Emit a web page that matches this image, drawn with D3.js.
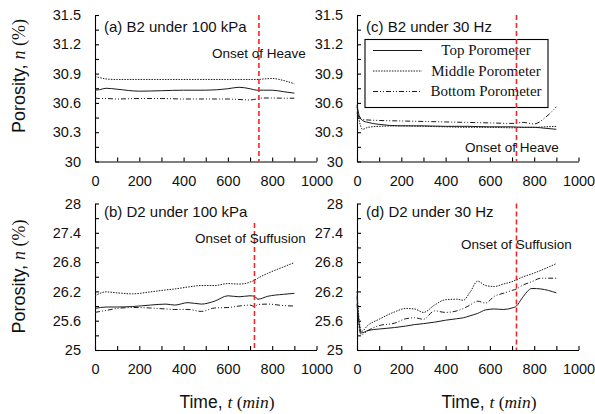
<!DOCTYPE html>
<html>
<head>
<meta charset="utf-8">
<script src="https://cdn.jsdelivr.net/npm/d3@7"></script>
<style>
  body { margin: 0; background: #fff; }
  svg { display: block; }
</style>
</head>
<body>
<svg id="chart" width="595" height="414"></svg>
<script>
// time axis ticks + labels
const xTicks = [0, 200, 400, 600, 800, 1000];
const yTicksB2 = [30, 30.3, 30.6, 30.9, 31.2, 31.5];
const yTicksD2 = [25, 25.6, 26.2, 26.8, 27.4, 28];

// (a) B2 under 100 kPa
const tA = [0, 20, 50, 100, 200, 300, 400, 500, 600, 650, 700, 730, 760, 800, 850, 900];
const aTop = [30.73, 30.735, 30.75, 30.74, 30.72, 30.725, 30.73, 30.73, 30.745, 30.76, 30.745, 30.73, 30.73, 30.73, 30.715, 30.70];
const aMid = [30.87, 30.86, 30.845, 30.84, 30.84, 30.84, 30.84, 30.84, 30.84, 30.84, 30.84, 30.84, 30.845, 30.85, 30.83, 30.795];
const aBot = [30.65, 30.645, 30.645, 30.64, 30.645, 30.645, 30.64, 30.64, 30.64, 30.635, 30.63, 30.64, 30.65, 30.65, 30.648, 30.648];

// (c) B2 under 30 Hz
const tC = [0, 10, 25, 50, 100, 200, 300, 400, 500, 600, 700, 750, 800, 850, 900];
const cTop = [30.58, 30.47, 30.42, 30.40, 30.38, 30.365, 30.365, 30.36, 30.36, 30.355, 30.355, 30.35, 30.35, 30.34, 30.33];
const cMid = [30.56, 30.42, 30.33, 30.35, 30.36, 30.365, 30.36, 30.355, 30.35, 30.35, 30.345, 30.35, 30.35, 30.355, 30.36];
const cBot = [30.50, 30.45, 30.43, 30.425, 30.42, 30.415, 30.41, 30.405, 30.40, 30.395, 30.39, 30.40, 30.385, 30.45, 30.56];

// (b) D2 under 100 kPa
const tB = [0, 50, 100, 170, 250, 320, 360, 420, 480, 540, 600, 650, 700, 720, 735, 780, 850, 900];
const bTop = [25.85, 25.88, 25.88, 25.89, 25.92, 25.94, 25.92, 25.97, 25.94, 26.00, 26.11, 26.09, 26.11, 26.10, 26.04, 26.10, 26.14, 26.16];
const bMid = [26.11, 26.19, 26.17, 26.15, 26.19, 26.23, 26.25, 26.29, 26.32, 26.32, 26.36, 26.35, 26.39, 26.43, 26.47, 26.57, 26.70, 26.79];
const bBot = [25.77, 25.81, 25.85, 25.87, 25.86, 25.84, 25.83, 25.83, 25.79, 25.86, 25.87, 25.90, 25.92, 25.89, 25.93, 25.94, 25.91, 25.90];

// (d) D2 under 30 Hz
const tD = [0, 8, 20, 50, 100, 170, 220, 260, 300, 350, 400, 450, 480, 510, 545, 580, 620, 660, 700, 720, 745, 790, 830, 900];
const dTop = [26.1, 25.6, 25.35, 25.40, 25.43, 25.46, 25.49, 25.52, 25.54, 25.57, 25.61, 25.64, 25.66, 25.70, 25.75, 25.82, 25.84, 25.83, 25.86, 25.90, 26.06, 26.26, 26.25, 26.17];
const dMid = [26.2, 25.7, 25.38, 25.51, 25.63, 25.78, 25.85, 25.84, 25.77, 25.92, 26.03, 26.04, 26.02, 26.18, 26.41, 26.32, 26.30, 26.35, 26.40, 26.44, 26.49, 26.56, 26.63, 26.77];
const dBot = [25.95, 25.5, 25.31, 25.40, 25.50, 25.55, 25.64, 25.66, 25.63, 25.80, 25.77, 25.80, 25.85, 25.92, 26.00, 25.96, 26.10, 26.16, 26.22, 26.25, 26.32, 26.40, 26.47, 26.47];

const seriesNames = ["Top Porometer", "Middle Porometer", "Bottom Porometer"];
const dashes = [null, "1.5,1.2", "5,2,1,2,1,2"];

const panels = [
  {title: "(a) B2 under 100 kPa", x0: 95, y0: 15, t: tA, s: [aTop, aMid, aBot], yt: yTicksB2,
   onset: 740, onsetTop: 31.5, note: "Onset of Heave", nx: 212, ny: 53},
  {title: "(c) B2 under 30 Hz", x0: 357, y0: 15, t: tC, s: [cTop, cMid, cBot], yt: yTicksB2,
   onset: 720, onsetTop: 31.5, note: "Onset of Heave", nx: 465, ny: 147, legend: true},
  {title: "(b) D2 under 100 kPa", x0: 95, y0: 203.5, t: tB, s: [bTop, bMid, bBot], yt: yTicksD2,
   onset: 720, onsetTop: 27.6, note: "Onset of Suffusion", nx: 195, ny: 238},
  {title: "(d) D2 under 30 Hz", x0: 357, y0: 203.5, t: tD, s: [dTop, dMid, dBot], yt: yTicksD2,
   onset: 720, onsetTop: 28, note: "Onset of Suffusion", nx: 461, ny: 244}
];

const W = 221.5, H = 146.5;
const sans = "'Liberation Sans', Arial, sans-serif";
const serif = "'Liberation Serif', 'Times New Roman', serif";

const svg = d3.select("#chart");

panels.forEach(function (p) {
  const g = svg.append("g").attr("transform", `translate(${p.x0},${p.y0})`);

  const x = d3.scaleLinear().domain([0, 1000]).range([0, W]);
  const yMin = p.yt[0], yMax = p.yt[p.yt.length - 1];
  const y = d3.scaleLinear().domain([yMin, yMax]).range([H, 0]);

  // minor ticks halfway between the labelled ones
  const step = p.yt[1] - p.yt[0];
  const yAll = [];
  p.yt.forEach((v, i) => { yAll.push(v); if (i < p.yt.length - 1) yAll.push(v + step / 2); });
  const xAll = d3.range(0, 1001, 100);

  const xAxis = d3.axisBottom(x).tickValues(xAll)
    .tickFormat(d => xTicks.includes(d) ? d : "")
    .tickSizeInner(-4).tickSizeOuter(0).tickPadding(14);
  const yAxis = d3.axisLeft(y).tickValues(yAll)
    .tickFormat(d => p.yt.some(v => Math.abs(v - d) < 1e-6) ? +d.toFixed(1) : "")
    .tickSizeInner(-4).tickSizeOuter(0).tickPadding(14);

  g.append("g").attr("transform", `translate(0,${H})`).call(xAxis)
    .call(a => a.selectAll("text").attr("font-size", 14.5).attr("font-family", sans).attr("fill", "#111"));
  g.append("g").call(yAxis)
    .call(a => a.selectAll("text").attr("font-size", 14.5).attr("font-family", sans).attr("fill", "#111"));
  g.selectAll(".domain, .tick line").attr("stroke", "#000").attr("stroke-width", 1.1);

  // porometer curves
  const line = d3.line().curve(d3.curveMonotoneX)
    .x((d, i) => x(p.t[i])).y(d => y(d));
  p.s.forEach(function (vals, k) {
    g.append("path").datum(vals)
      .attr("d", line)
      .attr("fill", "none")
      .attr("stroke", "#1a1a1a")
      .attr("stroke-width", 1)
      .attr("stroke-dasharray", dashes[k]);
  });

  g.append("text").attr("x", 9).attr("y", p.y0 === 15 ? 12 : 8.5)
    .attr("dy", "0.35em").attr("font-size", 15).attr("font-family", sans).attr("fill", "#111")
    .text(p.title);

  if (p.legend) {
    const lg = g.append("g").attr("transform", "translate(8,24.5)");
    lg.append("rect").attr("width", 183).attr("height", 68)
      .attr("fill", "#fff").attr("stroke", "#000").attr("stroke-width", 1.1);
    seriesNames.forEach(function (name, k) {
      const ly = 11 + k * 20.5;
      lg.append("line").attr("x1", 8).attr("x2", 57).attr("y1", ly).attr("y2", ly)
        .attr("stroke", "#1a1a1a").attr("stroke-width", 1).attr("stroke-dasharray", dashes[k]);
      lg.append("text").attr("x", 121).attr("y", ly).attr("dy", "0.33em")
        .attr("text-anchor", "middle").attr("font-size", 15).attr("font-family", serif)
        .attr("fill", "#111").text(name);
    });
  }

  // onset marker
  g.append("line")
    .attr("x1", x(p.onset)).attr("x2", x(p.onset))
    .attr("y1", y(p.onsetTop)).attr("y2", H)
    .attr("stroke", "#f0262a").attr("stroke-width", 1.6).attr("stroke-dasharray", "5,3");

  svg.append("text").attr("x", p.nx).attr("y", p.ny).attr("dy", "0.35em")
    .attr("font-size", 13.5).attr("font-family", sans).attr("fill", "#111")
    .text(p.note);
});

// axis titles
[76, 276.5].forEach(function (cy) {
  const t = svg.append("text")
    .attr("transform", `translate(25,${cy}) rotate(-90)`)
    .attr("text-anchor", "middle").attr("font-size", 18).attr("font-family", sans).attr("fill", "#111");
  t.append("tspan").text("Porosity, ");
  t.append("tspan").attr("font-family", serif).attr("font-style", "italic").text("n");
  t.append("tspan").attr("font-family", serif).text(" (%)");
});

[227, 489].forEach(function (cx) {
  const t = svg.append("text")
    .attr("x", cx).attr("y", 402).attr("dy", "0.35em")
    .attr("text-anchor", "middle").attr("font-size", 17.5).attr("font-family", sans).attr("fill", "#111");
  t.append("tspan").text("Time, ");
  t.append("tspan").attr("font-family", serif).attr("font-style", "italic").text("t");
  t.append("tspan").attr("font-family", serif).text(" (");
  t.append("tspan").attr("font-family", serif).attr("font-style", "italic").text("min");
  t.append("tspan").attr("font-family", serif).text(")");
});
</script>
</body>
</html>
